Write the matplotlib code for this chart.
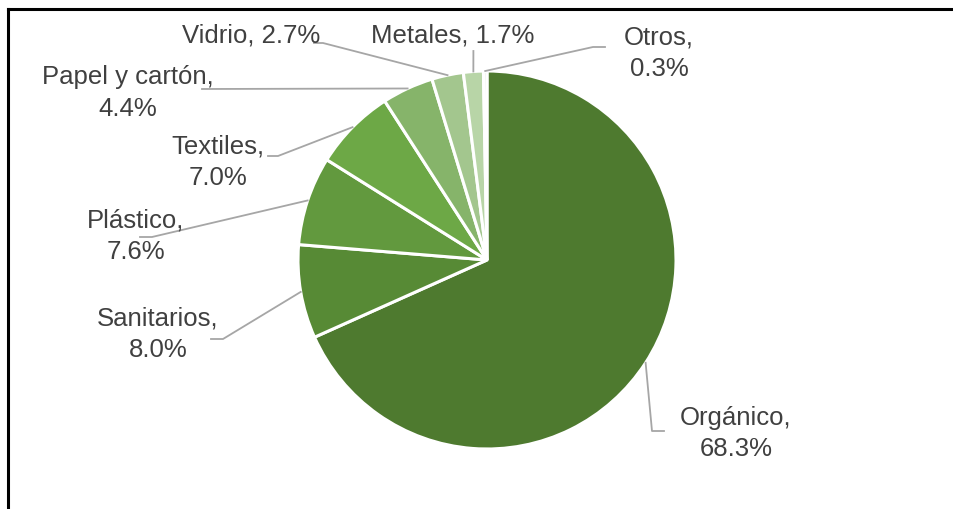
import numpy as np
import matplotlib
matplotlib.use("Agg")
import matplotlib.pyplot as plt
from matplotlib.lines import Line2D

# Composition of municipal solid waste (%)
categories = ["Orgánico", "Sanitarios", "Plástico", "Textiles",
              "Papel y cartón", "Vidrio", "Metales", "Otros"]
values = [68.3, 8.0, 7.6, 7.0, 4.4, 2.7, 1.7, 0.3]
colors = ["#4E7A2F", "#578A35", "#62993E", "#6DA846",
          "#86B46A", "#A3C68E", "#B8D5A7", "#E6F0DF"]

W, H = 954, 510
fig = plt.figure(figsize=(W / 100, H / 100), dpi=100)
ax = fig.add_axes([0, 0, 1, 1])
ax.set_xlim(0, W)
ax.set_ylim(0, H)
ax.set_aspect("equal")
ax.axis("off")


def up(y):
    """Convert a top-down pixel row to the axes' bottom-up coordinate."""
    return H - y


cx, cy, R = 487, up(261), 189
wedges, _ = ax.pie(values, colors=colors, startangle=90, counterclock=False,
                   center=(cx, cy), radius=R,
                   wedgeprops=dict(edgecolor="white", linewidth=2.2))
ax.set_xlim(0, W)
ax.set_ylim(0, H)

# Label layout: text centre, line break, leader path after the wedge edge
label_layout = {
    "Orgánico":       ((736, 433.5), True,  [(652, 432), (664, 432)]),
    "Sanitarios":     ((158, 334.5), True,  [(223, 340), (211, 340)]),
    "Plástico":       ((136, 236),   True,  [(152, 238), (140, 238)]),
    "Textiles":       ((218, 162),   True,  [(278, 157), (268, 157)]),
    "Papel y cartón": ((128, 93),    True,  [(202, 90)]),
    "Vidrio":         ((251, 35),    False, [(323, 44), (314, 44)]),
    "Metales":        ((453, 35),    False, [(473.4, 52)]),
    "Otros":          ((659, 53),    True,  [(593, 48), (605, 48)]),
}

text_color = "#404040"
leader_color = "#A6A6A6"
for w, name, val in zip(wedges, categories, values):
    mid = np.deg2rad((w.theta1 + w.theta2) / 2)
    sx, sy = cx + R * np.cos(mid), cy + R * np.sin(mid)
    (tx, ty), two_lines, path = label_layout[name]
    xs = [sx] + [p[0] for p in path]
    ys = [sy] + [up(p[1]) for p in path]
    ax.add_line(Line2D(xs, ys, color=leader_color, lw=1.3, zorder=1))
    sep = "\n" if two_lines else " "
    ax.text(tx, up(ty), f"{name},{sep}{val:.1f}%", ha="center", va="center",
            fontsize=18.5, color=text_color, family="Liberation Sans",
            linespacing=1.38)

# Frame around the chart area
ax.add_line(Line2D([8, W + 5], [up(10), up(10)], color="black", lw=2.2,
                   solid_capstyle="projecting"))
ax.add_line(Line2D([8, 8], [up(10), -5], color="black", lw=2.2,
                   solid_capstyle="projecting"))

fig.savefig("out.png", dpi=100, facecolor="white")
